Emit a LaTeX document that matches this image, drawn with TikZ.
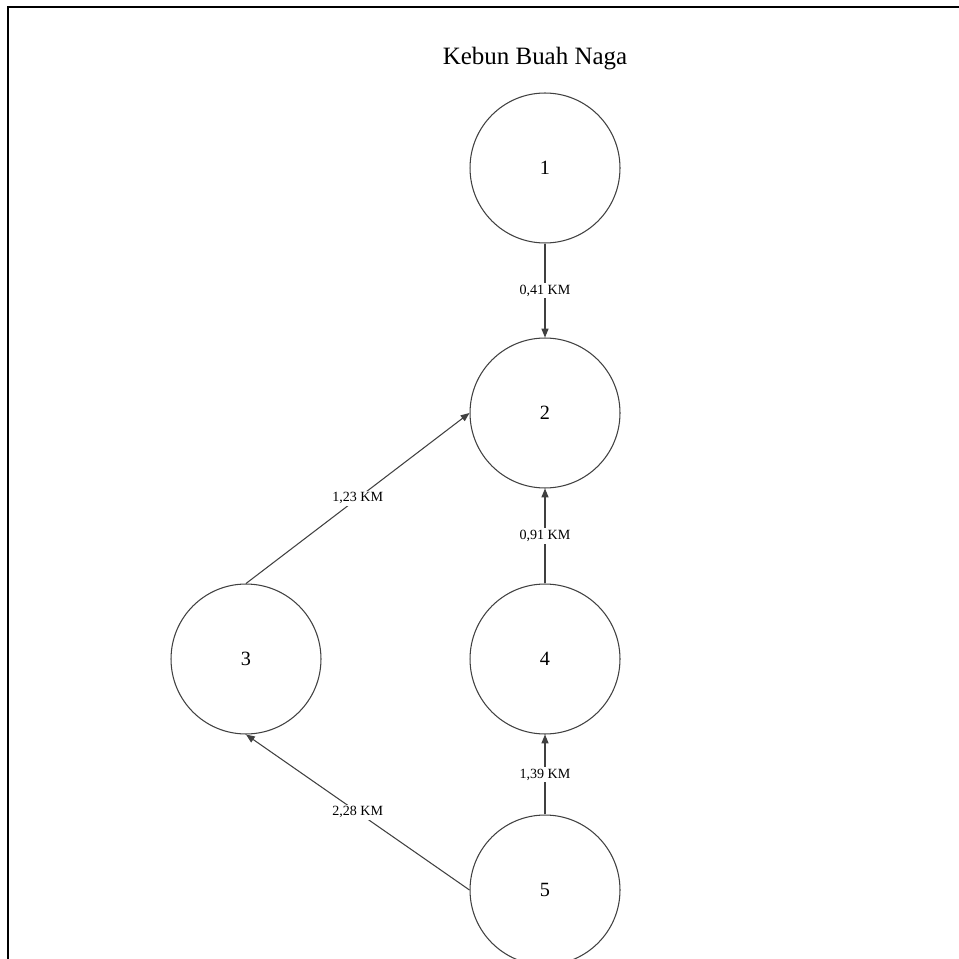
\documentclass[tikz,border=0pt]{standalone}
\usepackage{fontspec}
\setmainfont{Liberation Serif}
\usetikzlibrary{arrows.meta}

\begin{document}
\begin{tikzpicture}[x = 0.02cm, y = -0.02cm,
    lokasi/.style = {circle, draw = black!75, line width = 0.6pt, minimum size = 3cm, inner sep = 0pt, font = \fontsize{11.5}{13}\selectfont},
    jalur/.style = {draw = black!75, line width = 0.6pt, -{Triangle[length = 5pt, width = 4pt]}},
    jarak/.style = {fill = white, inner sep = 1pt, font = \fontsize{8}{9}\selectfont}]
            \useasboundingbox (0,0) rectangle (959,959);
            \clip (0,0) rectangle (959,959);
            \draw[line width = 0.9pt] (8,959) -- (8,7) -- (959,7);
            \node (judul) at (535,59) {\fontsize{14.2}{16}\selectfont Kebun Buah Naga};
            \node[lokasi] (n1) at (545,168) {1};
            \node[lokasi] (n2) at (545,413) {2};
            \node[lokasi] (n3) at (246,659) {3};
            \node[lokasi] (n4) at (545,659) {4};
            \node[lokasi] (n5) at (545,890) {5};
            \draw[jalur] (n1) -- node[jarak] {0,41 KM} (n2);
            \draw[jalur] (n4) -- node[jarak] {0,91 KM} (n2);
            \draw[jalur] (n5) -- node[jarak] {1,39 KM} (n4);
            \draw[jalur] (n3.north) -- node[jarak] {1,23 KM} (n2.west);
            \draw[jalur] (n5.west) -- node[jarak] {2,28 KM} (n3.south);
        \end{tikzpicture}
\end{document}
